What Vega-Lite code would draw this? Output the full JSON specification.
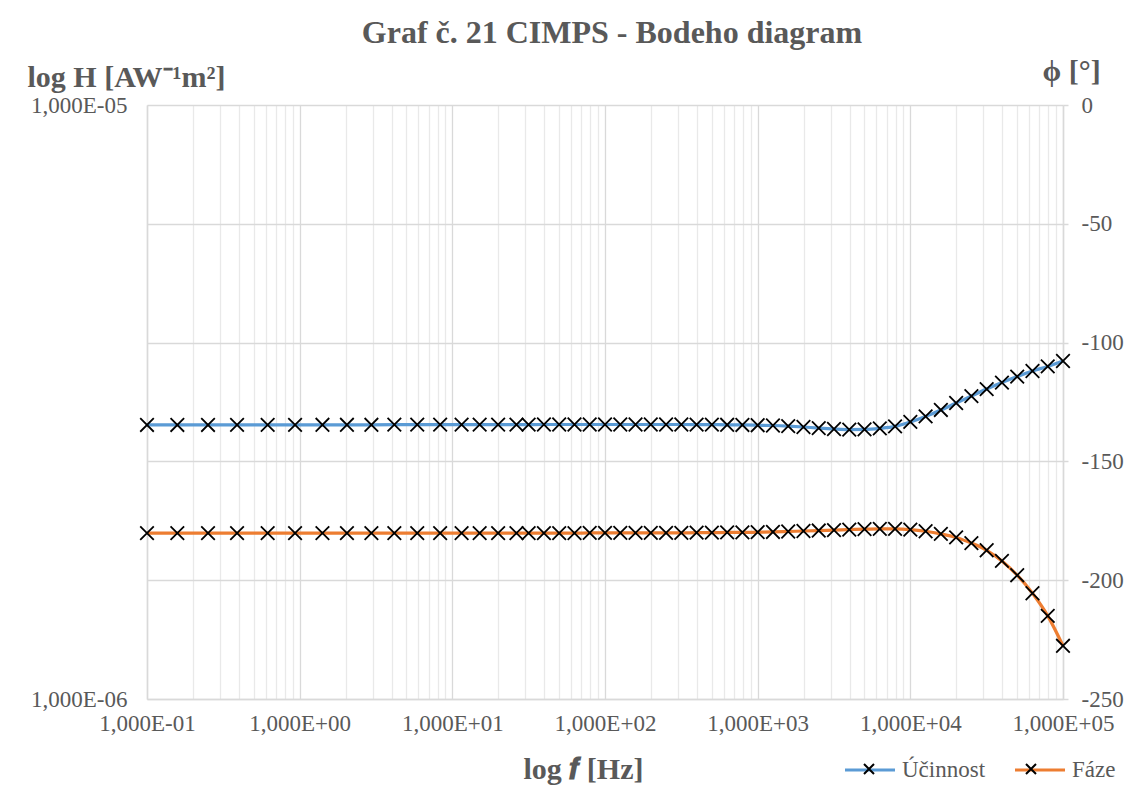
{
  "$schema": "https://vega.github.io/schema/vega-lite/v6.json",
  "width": 916,
  "height": 594,
  "autosize": {"type": "none"},
  "padding": {"left": 147, "top": 105, "right": 68, "bottom": 94},
  "background": "white",
  "config": {"view": {"stroke": null}},
  "title": {
    "text": "Graf č. 21 CIMPS - Bodeho diagram",
    "font": "Liberation Serif",
    "fontSize": 32,
    "fontWeight": "bold",
    "color": "#595959",
    "anchor": "middle",
    "frame": "group",
    "offset": 6,
    "dx": 7
  },
  "data": {
    "values": [
      {"f": 0.1, "H": 2.893e-6, "phi": -180.2},
      {"f": 0.158, "H": 2.893e-6, "phi": -180.2},
      {"f": 0.251, "H": 2.893e-6, "phi": -180.2},
      {"f": 0.389, "H": 2.894e-6, "phi": -180.2},
      {"f": 0.617, "H": 2.894e-6, "phi": -180.2},
      {"f": 0.933, "H": 2.894e-6, "phi": -180.2},
      {"f": 1.41, "H": 2.895e-6, "phi": -180.2},
      {"f": 2.04, "H": 2.895e-6, "phi": -180.2},
      {"f": 2.95, "H": 2.895e-6, "phi": -180.2},
      {"f": 4.17, "H": 2.896e-6, "phi": -180.2},
      {"f": 5.89, "H": 2.896e-6, "phi": -180.2},
      {"f": 8.32, "H": 2.896e-6, "phi": -180.2},
      {"f": 11.5, "H": 2.896e-6, "phi": -180.2},
      {"f": 15.1, "H": 2.897e-6, "phi": -180.2},
      {"f": 19.95, "H": 2.897e-6, "phi": -180.2},
      {"f": 26.3, "H": 2.897e-6, "phi": -180.2},
      {"f": 31.6, "H": 2.897e-6, "phi": -180.2},
      {"f": 39.8, "H": 2.898e-6, "phi": -180.2},
      {"f": 50.1, "H": 2.898e-6, "phi": -180.2},
      {"f": 63.1, "H": 2.898e-6, "phi": -180.2},
      {"f": 79.4, "H": 2.898e-6, "phi": -180.1},
      {"f": 100, "H": 2.898e-6, "phi": -180.1},
      {"f": 125.9, "H": 2.898e-6, "phi": -180.1},
      {"f": 158.5, "H": 2.898e-6, "phi": -180.1},
      {"f": 199.5, "H": 2.898e-6, "phi": -180.1},
      {"f": 251.2, "H": 2.898e-6, "phi": -180.1},
      {"f": 316.2, "H": 2.898e-6, "phi": -180.1},
      {"f": 398.1, "H": 2.897e-6, "phi": -180.0},
      {"f": 501.2, "H": 2.896e-6, "phi": -180.0},
      {"f": 631, "H": 2.895e-6, "phi": -179.9},
      {"f": 794.3, "H": 2.893e-6, "phi": -179.9},
      {"f": 1000, "H": 2.89e-6, "phi": -179.8},
      {"f": 1259, "H": 2.887e-6, "phi": -179.7},
      {"f": 1585, "H": 2.88e-6, "phi": -179.5},
      {"f": 1995, "H": 2.87e-6, "phi": -179.3},
      {"f": 2512, "H": 2.858e-6, "phi": -179.1},
      {"f": 3162, "H": 2.848e-6, "phi": -178.9},
      {"f": 3981, "H": 2.842e-6, "phi": -178.7},
      {"f": 5012, "H": 2.843e-6, "phi": -178.5},
      {"f": 6310, "H": 2.855e-6, "phi": -178.4},
      {"f": 7943, "H": 2.877e-6, "phi": -178.4},
      {"f": 10000, "H": 2.928e-6, "phi": -178.7},
      {"f": 12589, "H": 2.99e-6, "phi": -179.4},
      {"f": 15849, "H": 3.066e-6, "phi": -180.5},
      {"f": 19953, "H": 3.15e-6, "phi": -182.0},
      {"f": 25119, "H": 3.236e-6, "phi": -184.4},
      {"f": 31623, "H": 3.325e-6, "phi": -187.4},
      {"f": 39811, "H": 3.41e-6, "phi": -191.9},
      {"f": 50119, "H": 3.49e-6, "phi": -197.9},
      {"f": 63096, "H": 3.566e-6, "phi": -205.5},
      {"f": 79433, "H": 3.63e-6, "phi": -215.0},
      {"f": 100000, "H": 3.707e-6, "phi": -227.6}
    ]
  },
  "encoding": {
    "x": {
      "field": "f",
      "type": "quantitative",
      "scale": {"type": "log", "domain": [0.1, 100000], "nice": false},
      "axis": {
        "values": [0.1, 0.2, 0.3, 0.4, 0.5, 0.6, 0.7, 0.8, 0.9, 1, 2, 3, 4, 5, 6, 7, 8, 9, 10, 20, 30, 40, 50, 60, 70, 80, 90, 100, 200, 300, 400, 500, 600, 700, 800, 900, 1000, 2000, 3000, 4000, 5000, 6000, 7000, 8000, 9000, 10000, 20000, 30000, 40000, 50000, 60000, 70000, 80000, 90000, 100000],
        "labelExpr": "abs(log(datum.value)/LN10 - round(log(datum.value)/LN10)) < 0.001 ? '1,000E' + (round(log(datum.value)/LN10) < 0 ? '-' : '+') + '0' + abs(round(log(datum.value)/LN10)) : ''",
        "labelFont": "Liberation Serif",
        "labelFontSize": 23,
        "labelColor": "#595959",
        "labelPadding": 13,
        "labelOverlap": false,
        "labelFlush": false,
        "labelBound": false,
        "ticks": false,
        "domainColor": "#d9d9d9",
        "domainWidth": 1.5,
        "grid": true,
        "gridColor": {"condition": {"test": "abs(log(datum.value)/LN10 - round(log(datum.value)/LN10)) < 0.001", "value": "#d9d9d9"}, "value": "#e9e9e9"},
        "gridWidth": 1.3,
        "title": "log 𝒇 [Hz]",
        "titleFont": "Liberation Serif",
        "titleFontSize": 30,
        "titleFontWeight": "bold",
        "titleColor": "#595959",
        "titleAlign": "center",
        "titleBaseline": "alphabetic",
        "titleX": 436,
        "titleY": 79
      }
    }
  },
  "layer": [
    {
      "encoding": {
        "y": {
          "field": "H",
          "type": "quantitative",
          "scale": {"type": "log", "domain": [0.000001, 0.00001], "nice": false},
          "axis": {
            "orient": "left",
            "values": [0.000001, 0.00001],
            "labelExpr": "'1,000E-0' + abs(round(log(datum.value)/LN10))",
            "labelFont": "Liberation Serif",
            "labelFontSize": 23,
            "labelColor": "#595959",
            "labelPadding": 20,
            "labelBaseline": "middle",
            "labelOverlap": false,
            "labelFlush": false,
            "grid": false,
            "ticks": false,
            "domainColor": "#d9d9d9",
            "domainWidth": 1.5,
            "title": "log H [AW⁻¹m²]",
            "titleFont": "Liberation Serif",
            "titleFontSize": 30,
            "titleFontWeight": "bold",
            "titleColor": "#595959",
            "titleAngle": 0,
            "titleAlign": "left",
            "titleBaseline": "alphabetic",
            "titleX": -120,
            "titleY": -19
          }
        }
      },
      "layer": [
        {
          "mark": {"type": "line", "interpolate": "monotone", "strokeWidth": 3.2},
          "encoding": {
            "color": {
              "datum": "Účinnost",
              "scale": {"domain": ["Účinnost", "Fáze"], "range": ["#5B9BD5", "#ED7D31"]},
              "legend": {
                "orient": "none",
                "legendX": 696,
                "legendY": 638,
                "direction": "horizontal",
                "title": null,
                "values": ["Účinnost", "Fáze"],
                "symbolType": "stroke",
                "symbolSize": 2500,
                "symbolStrokeWidth": 3.2,
                "labelFont": "Liberation Serif",
                "labelFontSize": 23,
                "labelColor": "#595959",
                "labelOffset": 5,
                "columnPadding": 22
              }
            }
          }
        },
        {
          "mark": {"type": "point", "filled": false, "stroke": "black", "strokeWidth": 1.8, "size": 4600, "opacity": 1},
          "encoding": {
            "shape": {
              "datum": "Účinnost",
              "scale": {"domain": ["Fáze", "Účinnost"], "range": ["M-0.2,-0.2L0.2,0.2M-0.2,0.2L0.2,-0.2", "M-0.2,-0.2L0.2,0.2M-0.2,0.2L0.2,-0.2"]},
              "legend": {
                "orient": "none",
                "legendX": 696,
                "legendY": 638,
                "direction": "horizontal",
                "title": null,
                "values": ["Účinnost", "Fáze"],
                "symbolSize": 2500,
                "symbolStrokeColor": "black",
                "symbolFillColor": "transparent",
                "symbolStrokeWidth": 2,
                "labelExpr": "''",
                "labelFontSize": 23,
                "labelOffset": 5,
                "columnPadding": 105
              }
            }
          }
        }
      ]
    },
    {
      "encoding": {
        "y": {
          "field": "phi",
          "type": "quantitative",
          "scale": {"domain": [-250, 0], "nice": false},
          "axis": {
            "orient": "right",
            "values": [0, -50, -100, -150, -200, -250],
            "labelExpr": "'' + datum.value",
            "labelFont": "Liberation Serif",
            "labelFontSize": 23,
            "labelColor": "#595959",
            "labelPadding": 13,
            "labelBaseline": "middle",
            "labelOverlap": false,
            "labelFlush": false,
            "grid": true,
            "gridColor": "#d9d9d9",
            "gridWidth": 1.3,
            "ticks": true,
            "tickSize": 5,
            "tickColor": "#d9d9d9",
            "tickWidth": 1.5,
            "domainColor": "#d9d9d9",
            "domainWidth": 1.5,
            "title": "ϕ [°]",
            "titleFont": "Liberation Serif",
            "titleFontSize": 30,
            "titleFontWeight": "bold",
            "titleColor": "#595959",
            "titleAngle": 0,
            "titleAlign": "left",
            "titleBaseline": "alphabetic",
            "titleX": -21,
            "titleY": -25
          }
        }
      },
      "layer": [
        {
          "mark": {"type": "line", "interpolate": "monotone", "strokeWidth": 3.2},
          "encoding": {
            "color": {
              "datum": "Fáze",
              "scale": {"domain": ["Účinnost", "Fáze"], "range": ["#5B9BD5", "#ED7D31"]}
            }
          }
        },
        {
          "mark": {"type": "point", "filled": false, "stroke": "black", "strokeWidth": 1.8, "size": 4600, "opacity": 1},
          "encoding": {
            "shape": {
              "datum": "Fáze",
              "scale": {"domain": ["Fáze", "Účinnost"], "range": ["M-0.2,-0.2L0.2,0.2M-0.2,0.2L0.2,-0.2", "M-0.2,-0.2L0.2,0.2M-0.2,0.2L0.2,-0.2"]}
            }
          }
        }
      ]
    }
  ],
  "resolve": {"scale": {"y": "independent"}}
}
